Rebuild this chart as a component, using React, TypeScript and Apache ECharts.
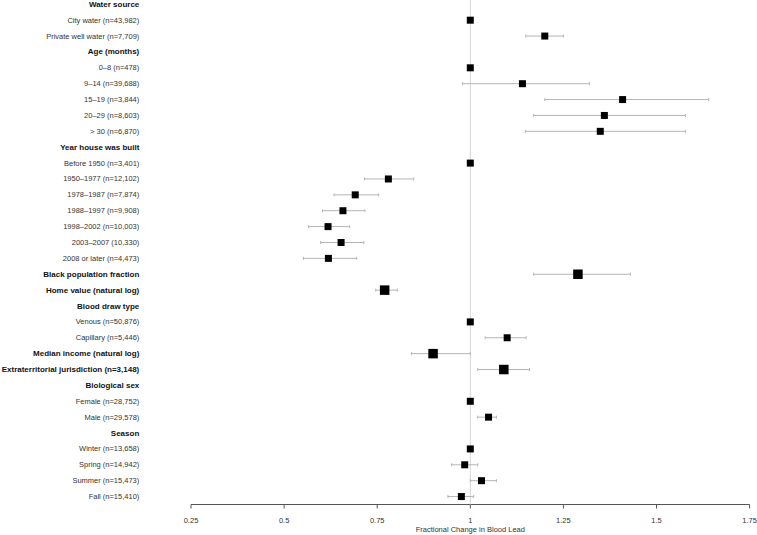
import React, { useEffect, useRef } from "react";
import * as echarts from "echarts";

const categories: string[] = [
  "Water source",
  "City water (n=43,982)",
  "Private well water (n=7,709)",
  "Age (months)",
  "0–8 (n=478)",
  "9–14 (n=39,688)",
  "15–19 (n=3,844)",
  "20–29 (n=8,603)",
  "> 30 (n=6,870)",
  "Year house was built",
  "Before 1950 (n=3,401)",
  "1950–1977 (n=12,102)",
  "1978–1987 (n=7,874)",
  "1988–1997 (n=9,908)",
  "1998–2002 (n=10,003)",
  "2003–2007 (10,330)",
  "2008 or later (n=4,473)",
  "Black population fraction",
  "Home value (natural log)",
  "Blood draw type",
  "Venous (n=50,876)",
  "Capillary (n=5,446)",
  "Median income (natural log)",
  "Extraterritorial jurisdiction (n=3,148)",
  "Biological sex",
  "Female (n=28,752)",
  "Male (n=29,578)",
  "Season",
  "Winter (n=13,658)",
  "Spring (n=14,942)",
  "Summer (n=15,473)",
  "Fall (n=15,410)",
];

const boldRows: boolean[] = [
  true, false, false, true, false, false, false, false, false, true,
  false, false, false, false, false, false, false, true, true, true,
  false, false, true, true, true, false, false, true, false, false,
  false, false,
];

const estimates: (number | null)[] = [
  null, 1, 1.2, null, 1, 1.14, 1.409, 1.36, 1.349, null,
  1, 0.78, 0.691, 0.658, 0.618, 0.653, 0.619, 1.289, 0.77, null,
  1, 1.099, 0.9, 1.09, null, 1, 1.049, null, 1, 0.985,
  1.03, 0.976,
];

const lowerCI: (number | null)[] = [
  null, null, 1.149, null, null, 0.979, 1.2, 1.17, 1.148, null,
  null, 0.716, 0.634, 0.603, 0.566, 0.598, 0.552, 1.17, 0.746, null,
  null, 1.04, 0.842, 1.02, null, null, 1.02, null, null, 0.95,
  1.0, 0.94,
];

const upperCI: (number | null)[] = [
  null, null, 1.25, null, null, 1.32, 1.64, 1.578, 1.578, null,
  null, 0.848, 0.754, 0.717, 0.676, 0.714, 0.695, 1.43, 0.804, null,
  null, 1.15, 1.0, 1.159, null, null, 1.07, null, null, 1.02,
  1.07, 1.009,
];

const xTicks: number[] = [0.25, 0.5, 0.75, 1, 1.25, 1.5, 1.75];
const referenceLine = 1;

export default function App() {
  const ref = useRef<HTMLDivElement>(null);

  useEffect(() => {
    if (!ref.current) return;
    const chart = echarts.init(ref.current, null, { renderer: "svg" });

    const ciData: number[][] = [];
    categories.forEach((_, i) => {
      const lo = lowerCI[i];
      const hi = upperCI[i];
      if (lo != null && hi != null) ciData.push([lo, hi, i]);
    });
    const smallPts: number[][] = [];
    const bigPts: number[][] = [];
    categories.forEach((_, i) => {
      const e = estimates[i];
      if (e == null) return;
      if (boldRows[i]) bigPts.push([e, i]);
      else smallPts.push([e, i]);
    });

    const font = "Liberation Sans, Arial, sans-serif";
    const axisColor = "#555";
    const gridTop = -3.64;
    const gridHeight = 508.14;

    const option: any = {
      animation: false,
      grid: {
        left: 191,
        right: 7.4,
        top: gridTop,
        height: gridHeight,
        containLabel: false,
        outerBoundsMode: "none",
      },
      xAxis: {
        type: "value",
        position: "bottom",
        min: 0.25,
        max: 1.75,
        interval: 0.25,
        splitLine: { show: false },
        axisLine: { show: false },
        axisTick: { show: false },
        axisLabel: {
          color: "#333",
          fontSize: 7.5,
          fontFamily: font,
          margin: 12,
          formatter: (v: number) => (xTicks.includes(v) ? String(v) : ""),
        },
        name: "Fractional Change in Blood Lead",
        nameLocation: "middle",
        nameGap: 21,
        nameMoveOverlap: false,
        nameTextStyle: { color: "#333", fontSize: 7.5, fontFamily: font },
      },
      yAxis: {
        type: "category",
        inverse: true,
        data: categories,
        axisLine: { show: false },
        axisTick: { show: false },
        splitLine: { show: false },
        axisLabel: {
          margin: 51.7,
          interval: 0,
          color: "#333",
          formatter: (v: string, i: number) =>
            boldRows[i] ? `{b|${v}}` : `{n|${v}}`,
          rich: {
            b: { fontSize: 8, fontWeight: "bold", color: "#111", fontFamily: font },
            n: { fontSize: 7.5, color: "#333", fontFamily: font },
          },
        },
      },
      series: [
        {
          type: "custom",
          data: [0],
          z: 1,
          silent: true,
          renderItem: (params: any, api: any) => {
            const top = params.coordSys.y;
            const bottom = params.coordSys.y + params.coordSys.height;
            const p = api.coord([referenceLine, 0]);
            return {
              type: "line",
              shape: { x1: p[0], y1: Math.max(top, 0), x2: p[0], y2: bottom },
              style: { stroke: "#d4d4d4", lineWidth: 1 },
            };
          },
        },
        {
          type: "custom",
          data: ciData,
          z: 2,
          silent: true,
          renderItem: (params: any, api: any) => {
            const lo = api.value(0);
            const hi = api.value(1);
            const idx = api.value(2);
            const p1 = api.coord([lo, idx]);
            const p2 = api.coord([hi, idx]);
            const c = 1.5;
            const style = { stroke: "#b5b5b5", lineWidth: 1 };
            return {
              type: "group",
              children: [
                { type: "line", shape: { x1: p1[0], y1: p1[1], x2: p2[0], y2: p2[1] }, style },
                { type: "line", shape: { x1: p1[0], y1: p1[1] - c, x2: p1[0], y2: p1[1] + c }, style },
                { type: "line", shape: { x1: p2[0], y1: p2[1] - c, x2: p2[0], y2: p2[1] + c }, style },
              ],
            };
          },
        },
        {
          type: "scatter",
          data: smallPts,
          symbol: "rect",
          symbolSize: 7,
          itemStyle: { color: "#000", opacity: 1 },
          z: 3,
          silent: true,
        },
        {
          type: "scatter",
          data: bigPts,
          symbol: "rect",
          symbolSize: 9.5,
          itemStyle: { color: "#000", opacity: 1 },
          z: 3,
          silent: true,
        },
      ],
    };

    chart.setOption(option);

    // x axis line and ticks, positioned through the axis scale
    const bottom = gridTop + gridHeight;
    const xs = xTicks.map((t) => chart.convertToPixel({ xAxisIndex: 0 }, t) as number);
    const graphics: any[] = [
      {
        type: "line",
        silent: true,
        shape: { x1: xs[0], y1: bottom, x2: xs[xs.length - 1], y2: bottom },
        style: { stroke: axisColor, lineWidth: 1 },
      },
      ...xs.map((x) => ({
        type: "line",
        silent: true,
        shape: { x1: x, y1: bottom, x2: x, y2: bottom + 4 },
        style: { stroke: axisColor, lineWidth: 1 },
      })),
    ];
    chart.setOption({ graphic: graphics });

    return () => chart.dispose();
  }, []);

  return (
    <div
      ref={ref}
      style={{ position: "fixed", left: 0, top: 0, width: 757, height: 535, background: "#fff" }}
    />
  );
}
